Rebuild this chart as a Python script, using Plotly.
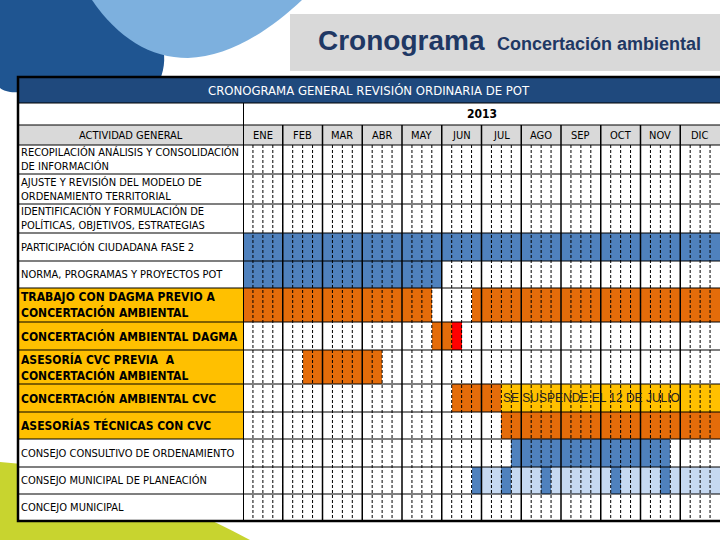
import re
import plotly.graph_objects as go

# ---------------- data ----------------
year_label = "2013"
months = ["ENE", "FEB", "MAR", "ABR", "MAY", "JUN", "JUL", "AGO", "SEP", "OCT", "NOV", "DIC"]
weeks_per_month = 4

activities = [
    "RECOPILACIÓN ANÁLISIS Y CONSOLIDACIÓN<br>DE INFORMACIÓN",
    "AJUSTE Y REVISIÓN DEL MODELO DE<br>ORDENAMIENTO TERRITORIAL",
    "IDENTIFICACIÓN Y FORMULACIÓN DE<br>POLÍTICAS, OBJETIVOS, ESTRATEGIAS",
    "PARTICIPACIÓN CIUDADANA FASE 2",
    "NORMA, PROGRAMAS Y PROYECTOS POT",
    "TRABAJO CON DAGMA PREVIO A<br>CONCERTACIÓN AMBIENTAL",
    "CONCERTACIÓN AMBIENTAL DAGMA",
    "ASESORÍA CVC PREVIA  A<br>CONCERTACIÓN AMBIENTAL",
    "CONCERTACIÓN AMBIENTAL CVC",
    "ASESORÍAS TÉCNICAS CON CVC",
    "CONSEJO CONSULTIVO DE ORDENAMIENTO",
    "CONSEJO MUNICIPAL DE PLANEACIÓN",
    "CONCEJO MUNICIPAL",
]
activity_group = ["general"] * 5 + ["ambiental"] * 5 + ["general"] * 3

# schedule segments (row index, start week, end week, kind) -- weeks counted from start of ENE
seg_row = [3, 4, 5, 5, 6, 6, 7, 8, 8, 9, 10,
           11, 11, 11, 11, 11, 11, 11, 11, 11, 11]
seg_start = [0, 0, 0, 23, 19, 21, 6, 21, 26, 26, 27,
             23, 24, 26, 27, 30, 31, 37, 38, 42, 43]
seg_end = [48, 20, 19, 48, 21, 22, 14, 26, 48, 48, 43,
           24, 26, 27, 30, 31, 37, 38, 42, 43, 48]
seg_kind = ["azul", "azul", "naranja", "naranja", "naranja", "rojo", "naranja", "naranja", "amarillo", "naranja", "azul",
            "azul", "azul_claro", "azul", "azul_claro", "azul", "azul_claro", "azul", "azul_claro", "azul", "azul_claro"]
seg_note = ["", "", "", "", "", "", "", "", "SE SUSPENDE EL 12 DE JULIO", "", "",
            "", "", "", "", "", "", "", "", "", ""]

# ---------------- styles / layout constants ----------------
kind_color = {
    "azul_claro": "#C6D9F1",
    "azul": "#4F81BD",
    "naranja": "#E46C0A",
    "rojo": "#FF0000",
    "amarillo": "#FFC000",
}
group_fill = {"general": "rgba(0,0,0,0)", "ambiental": "#FFC000"}

W, H = 720, 540
TL, TR = 18, 720          # table left / right (px)
GL = 243                  # start of month grid (px)
Y_TITLE, Y_YEAR, Y_HEAD, Y_ROWS = 77, 103, 125, 145
row_heights = [29, 30, 29, 28, 27, 34, 28, 34, 28, 27, 28, 27, 27]
edges = [Y_ROWS]
for h in row_heights:
    edges.append(edges[-1] + h)
Y_BOT = edges[-1]

F_NARROW = "Liberation Sans Narrow, DejaVu Sans Condensed, Arial Narrow, sans-serif"
F_SANS = "Liberation Sans, Arial, sans-serif"
n_weeks = len(months) * weeks_per_month


def px(x):
    return x / W


def py(y):
    return 1 - y / H


def ppath(s):
    # convert a pixel-space path to paper coordinates
    toks = re.findall(r"[A-Za-z]|-?\d+\.?\d*", s)
    out, coord = [], 0
    for t in toks:
        if t.isalpha():
            out.append(t)
            coord = 0
        else:
            v = float(t)
            out.append("%.5f" % (px(v) if coord % 2 == 0 else py(v)))
            coord += 1
    return " ".join(out)


fig = go.Figure()

# bars
for kind in ["azul_claro", "azul", "naranja", "rojo", "amarillo"]:
    idx = [i for i, k in enumerate(seg_kind) if k == kind]
    if not idx:
        continue
    rows = [seg_row[i] for i in idx]
    fig.add_trace(go.Bar(
        orientation="h",
        base=[seg_start[i] for i in idx],
        x=[seg_end[i] - seg_start[i] for i in idx],
        y=[(edges[r] + edges[r + 1]) / 2 for r in rows],
        width=[edges[r + 1] - edges[r] for r in rows],
        marker=dict(color=kind_color[kind], line=dict(width=0)),
        hoverinfo="skip", showlegend=False,
    ))

shapes = []


def prect(x0, x1, y0, y1, fill):
    shapes.append(dict(type="rect", xref="paper", yref="paper", layer="below",
                       x0=px(x0), x1=px(x1), y0=py(y0), y1=py(y1),
                       fillcolor=fill, line=dict(width=0)))


# background decorations
shapes.append(dict(type="path", xref="paper", yref="paper", layer="below",
                   path=ppath("M 0 0 L 120 0 C 165 25 170 55 160 80 L 20 92 C 10 93 4 91 0 88 Z"),
                   fillcolor="#1F5591", line=dict(width=0)))
shapes.append(dict(type="path", xref="paper", yref="paper", layer="below",
                   path=ppath("M 92 0 C 118 38 150 58 188 58 C 228 57 268 32 302 0 Z"),
                   fillcolor="#7DB0DE", line=dict(width=0)))
shapes.append(dict(type="path", xref="paper", yref="paper", layer="below",
                   path=ppath("M 0 462 Q 120 470 250 540 L 0 540 Z"),
                   fillcolor="#C8D42F", line=dict(width=0)))
prect(290, W, 14, 71, "#D9D9D9")
# table background
prect(TL, TR, Y_TITLE, Y_BOT, "white")
prect(TL, TR, Y_TITLE, Y_YEAR, "#1F497D")
prect(TL, TR, Y_HEAD, Y_ROWS, "#D9D9D9")
for r, g in enumerate(activity_group):
    if g != "general":
        prect(TL, GL, edges[r], edges[r + 1], group_fill[g])

# grid lines (above bars)
for k in range(1, n_weeks):
    if k % weeks_per_month:
        shapes.append(dict(type="line", xref="x", yref="y", layer="above",
                           x0=k, x1=k, y0=Y_ROWS, y1=Y_BOT,
                           line=dict(color="black", width=1, dash="3px,2px")))
    else:
        shapes.append(dict(type="line", xref="x", yref="y", layer="above",
                           x0=k, x1=k, y0=Y_HEAD, y1=Y_BOT,
                           line=dict(color="black", width=1.5)))
shapes.append(dict(type="line", xref="x", yref="y", layer="above",
                   x0=0, x1=0, y0=Y_YEAR, y1=Y_BOT, line=dict(color="black", width=2)))
for yy in [Y_YEAR, Y_HEAD] + edges:
    shapes.append(dict(type="line", xref="paper", yref="y", layer="above",
                       x0=px(TL), x1=px(TR), y0=yy, y1=yy, line=dict(color="black", width=1.2)))
shapes.append(dict(type="rect", xref="paper", yref="y", layer="above",
                   x0=px(TL), x1=px(TR + 2), y0=Y_TITLE, y1=Y_BOT, line=dict(color="black", width=2.5)))

ann = []
ann.append(dict(xref="paper", yref="y", x=px(487), y=40, text="<b>Cronograma</b>", showarrow=False,
                xanchor="right", yanchor="middle", font=dict(family=F_SANS, size=28, color="#1F3864")))
ann.append(dict(xref="paper", yref="y", x=px(495), y=44, text="<b>Concertación ambiental</b>", showarrow=False,
                xanchor="left", yanchor="middle", font=dict(family=F_SANS, size=18, color="#1F3864")))
ann.append(dict(xref="paper", yref="y", x=px((TL + TR) / 2), y=(Y_TITLE + Y_YEAR) / 2,
                text="CRONOGRAMA GENERAL REVISIÓN ORDINARIA DE POT", showarrow=False,
                xanchor="center", yanchor="middle",
                font=dict(family=F_NARROW, size=13, color="white")))
ann.append(dict(xref="x", yref="y", x=n_weeks / 2, y=(Y_YEAR + Y_HEAD) / 2,
                text="<b>" + year_label + "</b>", showarrow=False,
                xanchor="center", yanchor="middle",
                font=dict(family=F_NARROW, size=12, color="black")))
ann.append(dict(xref="paper", yref="y", x=px((TL + GL) / 2), y=(Y_HEAD + Y_ROWS) / 2,
                text="ACTIVIDAD GENERAL", showarrow=False,
                xanchor="center", yanchor="middle",
                font=dict(family=F_NARROW, size=11, color="black")))
for m, name in enumerate(months):
    ann.append(dict(xref="x", yref="y", x=m * weeks_per_month + weeks_per_month / 2,
                    y=(Y_HEAD + Y_ROWS) / 2, text=name, showarrow=False,
                    xanchor="center", yanchor="middle",
                    font=dict(family=F_NARROW, size=11, color="black")))
for r, label in enumerate(activities):
    bold = activity_group[r] == "ambiental"
    ann.append(dict(xref="paper", yref="y", x=px(TL + 1), y=(edges[r] + edges[r + 1]) / 2,
                    text=("<b>" + label + "</b>") if bold else label, showarrow=False,
                    xanchor="left", yanchor="middle", align="left",
                    font=dict(family=F_NARROW, size=12 if bold else 11, color="black")))
for i, note in enumerate(seg_note):
    if note:
        r = seg_row[i]
        ann.append(dict(xref="x", yref="y", x=seg_start[i], y=(edges[r] + edges[r + 1]) / 2,
                        text=note, showarrow=False, xanchor="left", yanchor="middle",
                        font=dict(family=F_SANS, size=12, color="#222222")))

fig.update_layout(
    width=W, height=H, margin=dict(l=0, r=0, t=0, b=0),
    paper_bgcolor="white", plot_bgcolor="rgba(0,0,0,0)",
    barmode="overlay", bargap=0,
    xaxis=dict(domain=[GL / W, 1], range=[0, n_weeks], visible=False, fixedrange=True),
    yaxis=dict(domain=[0, 1], range=[H, 0], visible=False, fixedrange=True),
    shapes=shapes, annotations=ann,
)

fig.write_html("out.html", config={"displayModeBar": False},
               post_script="document.body.style.margin='0';document.body.style.padding='0';")
